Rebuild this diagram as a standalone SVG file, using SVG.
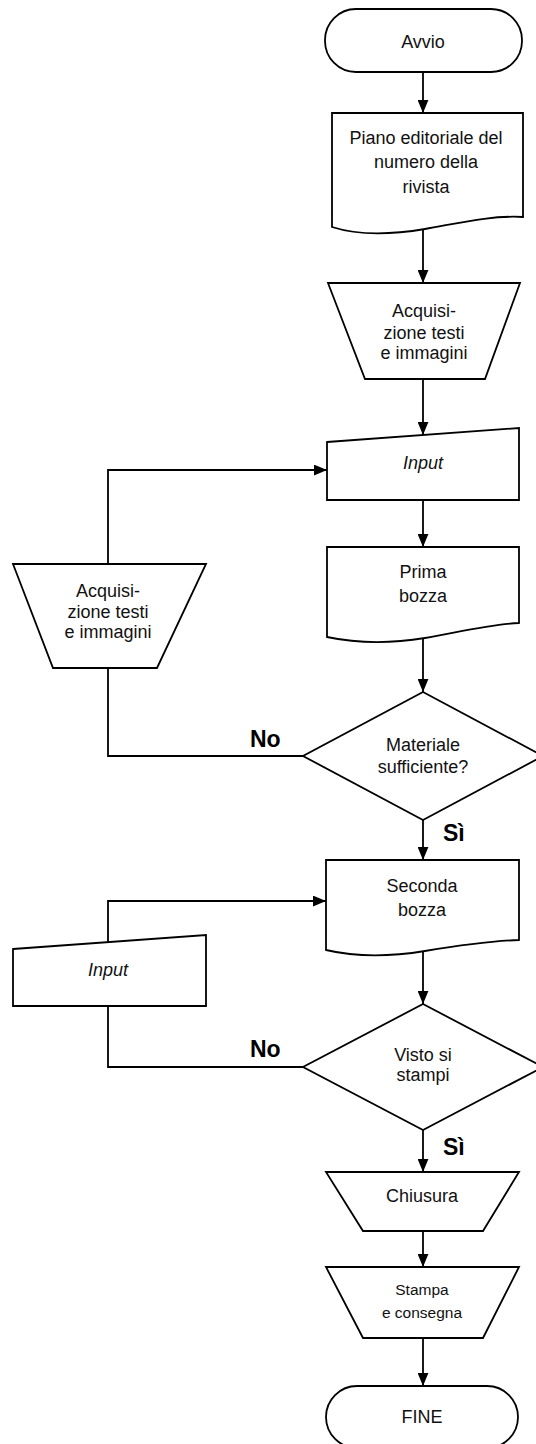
<svg xmlns="http://www.w3.org/2000/svg" width="536" height="1444" viewBox="0 0 536 1444">
<defs>
<marker id="arr" viewBox="0 0 12 10" refX="12" refY="5" markerWidth="13" markerHeight="11" markerUnits="userSpaceOnUse" orient="auto">
<path d="M0,0 L12,5 L0,10 Z" fill="#000"/>
</marker>
</defs>
<style>
.s{fill:#fff;stroke:#000;stroke-width:1.8}
.c{fill:none;stroke:#000;stroke-width:1.8}
.t{font-family:"Liberation Sans",Arial,sans-serif;font-size:18px;fill:#111;text-anchor:middle}
.sm{font-size:15.5px}
.i{font-style:italic}
.b{font-family:"Liberation Sans",Arial,sans-serif;font-size:23px;font-weight:bold;fill:#000}
</style>
<rect width="536" height="1444" fill="#fff"/>
<g id="connectors">
<line class="c" x1="423" y1="72" x2="423" y2="113" marker-end="url(#arr)"/>
<line class="c" x1="423" y1="229" x2="423" y2="283" marker-end="url(#arr)"/>
<line class="c" x1="423" y1="379" x2="423" y2="435" marker-end="url(#arr)"/>
<line class="c" x1="423" y1="500" x2="423" y2="547" marker-end="url(#arr)"/>
<line class="c" x1="423" y1="636" x2="423" y2="692" marker-end="url(#arr)"/>
<line class="c" x1="423" y1="820" x2="423" y2="860" marker-end="url(#arr)"/>
<line class="c" x1="423" y1="949" x2="423" y2="1004" marker-end="url(#arr)"/>
<line class="c" x1="423" y1="1130" x2="423" y2="1172" marker-end="url(#arr)"/>
<line class="c" x1="423" y1="1231" x2="423" y2="1267" marker-end="url(#arr)"/>
<line class="c" x1="423" y1="1338" x2="423" y2="1386" marker-end="url(#arr)"/>
<polyline class="c" points="303,756 108,756 108,668"/>
<polyline class="c" points="108,564 108,470 327,470" marker-end="url(#arr)"/>
<polyline class="c" points="303,1067 108,1067 108,1006"/>
<polyline class="c" points="108,942 108,901 326,901" marker-end="url(#arr)"/>
<text class="b" x="250" y="747">No</text>
<text class="b" x="443" y="841">Sì</text>
<text class="b" x="250" y="1057">No</text>
<text class="b" x="443" y="1155">Sì</text>
</g>
<g id="avvio">
<rect class="s" x="325" y="9" width="197" height="63" rx="31" ry="31"/>
<text class="t" x="423" y="48">Avvio</text>
</g>
<g id="piano">
<path class="s" d="M332,113 H523 V217 C490,215 455,224 425,229 C395,234 360,236 332,227 Z"/>
<text class="t" x="426" y="144">Piano editoriale del</text>
<text class="t" x="426" y="168">numero della</text>
<text class="t" x="426" y="193">rivista</text>
</g>
<g id="acquisizione1">
<polygon class="s" points="328,283 520,283 485,379 365,379"/>
<text class="t" x="424" y="317">Acquisi-</text>
<text class="t" x="424" y="339">zione testi</text>
<text class="t" x="424" y="359">e immagini</text>
</g>
<g id="input1">
<polygon class="s" points="327,442 519,428 519,500 327,500"/>
<text class="t i" x="423" y="469">Input</text>
</g>
<g id="prima">
<path class="s" d="M327,547 H519 V623 C490,624 455,633 425,638 C395,643 360,644 327,637 Z"/>
<text class="t" x="423" y="578">Prima</text>
<text class="t" x="423" y="602">bozza</text>
</g>
<g id="decisione1">
<polygon class="s" points="423,692 543,756 423,820 303,756"/>
<text class="t" x="423" y="751">Materiale</text>
<text class="t" x="423" y="773">sufficiente?</text>
</g>
<g id="acquisizione2">
<polygon class="s" points="13,564 206,564 157,668 53,668"/>
<text class="t" x="108" y="597">Acquisi-</text>
<text class="t" x="108" y="618">zione testi</text>
<text class="t" x="108" y="638">e immagini</text>
</g>
<g id="seconda">
<path class="s" d="M326,860 H519 V940 C490,941 455,946 425,951 C395,956 360,958 326,950 Z"/>
<text class="t" x="422" y="892">Seconda</text>
<text class="t" x="422" y="916">bozza</text>
</g>
<g id="input2">
<polygon class="s" points="13,949 206,935 206,1006 13,1006"/>
<text class="t i" x="108" y="976">Input</text>
</g>
<g id="decisione2">
<polygon class="s" points="423,1004 543,1067 423,1130 303,1067"/>
<text class="t" x="423" y="1061">Visto si</text>
<text class="t" x="423" y="1081">stampi</text>
</g>
<g id="chiusura">
<polygon class="s" points="326,1172 519,1172 483,1231 363,1231"/>
<text class="t" x="422" y="1202">Chiusura</text>
</g>
<g id="stampa">
<polygon class="s" points="326,1267 519,1267 483,1338 363,1338"/>
<text class="t sm" x="422" y="1295">Stampa</text>
<text class="t sm" x="422" y="1318">e consegna</text>
</g>
<g id="fine">
<rect class="s" x="326" y="1386" width="192" height="62" rx="31" ry="31"/>
<text class="t" x="422" y="1423">FINE</text>
</g>
</svg>
